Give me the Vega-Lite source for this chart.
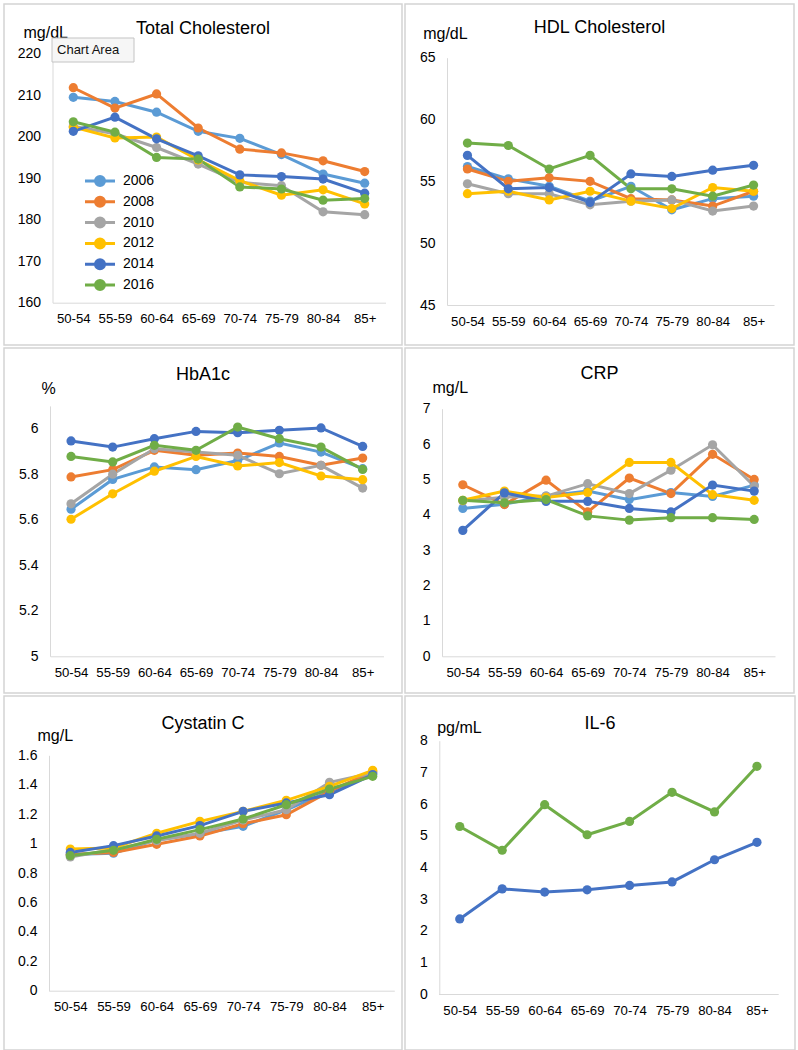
{
  "$schema": "https://vega.github.io/schema/vega-lite/v6.json",
  "padding": {"left": 3, "top": 3, "right": 0, "bottom": 0},
  "background": "white",
  "columns": 2,
  "spacing": 1,
  "resolve": {"legend": {"color": "independent"}},
  "config": {
    "view": {"stroke": "#d4d4d4", "strokeWidth": 1.5},
    "title": {"font": "Liberation Sans", "fontSize": 18, "fontWeight": "normal", "color": "#000000", "anchor": "middle", "offset": -30},
    "axis": {"domainColor": "#d9d9d9", "domainWidth": 1, "ticks": false, "tickSize": 0, "grid": false, "labelFont": "Liberation Sans", "labelFontSize": 14, "labelColor": "#000000", "labelPadding": 12, "titleFont": "Liberation Sans", "titleFontSize": 16, "titleFontWeight": "normal", "titleColor": "#000000"},
    "axisX": {"labelAngle": 0, "labelBaseline": "middle", "labelPadding": 16, "labelFontSize": 13.2, "title": null},
    "axisY": {"titleAngle": 0, "titleAlign": "left", "titleBaseline": "middle", "format": "~g"},
    "line": {"strokeWidth": 3},
    "point": {"filled": true, "size": 85, "opacity": 1}
  },
  "datasets": {
    "tc": [
      {"age": "50-54", "year": "2006", "value": 209.5}, {"age": "55-59", "year": "2006", "value": 208.5}, {"age": "60-64", "year": "2006", "value": 205.9}, {"age": "65-69", "year": "2006", "value": 201.3}, {"age": "70-74", "year": "2006", "value": 199.6}, {"age": "75-79", "year": "2006", "value": 195.7}, {"age": "80-84", "year": "2006", "value": 191.0}, {"age": "85+", "year": "2006", "value": 188.8},
      {"age": "50-54", "year": "2008", "value": 211.8}, {"age": "55-59", "year": "2008", "value": 206.9}, {"age": "60-64", "year": "2008", "value": 210.3}, {"age": "65-69", "year": "2008", "value": 202.1}, {"age": "70-74", "year": "2008", "value": 197.0}, {"age": "75-79", "year": "2008", "value": 196.1}, {"age": "80-84", "year": "2008", "value": 194.2}, {"age": "85+", "year": "2008", "value": 191.6},
      {"age": "50-54", "year": "2010", "value": 202.5}, {"age": "55-59", "year": "2010", "value": 200.7}, {"age": "60-64", "year": "2010", "value": 197.4}, {"age": "65-69", "year": "2010", "value": 193.4}, {"age": "70-74", "year": "2010", "value": 189.0}, {"age": "75-79", "year": "2010", "value": 188.2}, {"age": "80-84", "year": "2010", "value": 181.9}, {"age": "85+", "year": "2010", "value": 181.2},
      {"age": "50-54", "year": "2012", "value": 202.3}, {"age": "55-59", "year": "2012", "value": 199.7}, {"age": "60-64", "year": "2012", "value": 199.9}, {"age": "65-69", "year": "2012", "value": 194.4}, {"age": "70-74", "year": "2012", "value": 189.4}, {"age": "75-79", "year": "2012", "value": 185.9}, {"age": "80-84", "year": "2012", "value": 187.2}, {"age": "85+", "year": "2012", "value": 183.8},
      {"age": "50-54", "year": "2014", "value": 201.3}, {"age": "55-59", "year": "2014", "value": 204.7}, {"age": "60-64", "year": "2014", "value": 199.5}, {"age": "65-69", "year": "2014", "value": 195.4}, {"age": "70-74", "year": "2014", "value": 190.8}, {"age": "75-79", "year": "2014", "value": 190.4}, {"age": "80-84", "year": "2014", "value": 189.8}, {"age": "85+", "year": "2014", "value": 186.4},
      {"age": "50-54", "year": "2016", "value": 203.6}, {"age": "55-59", "year": "2016", "value": 201.1}, {"age": "60-64", "year": "2016", "value": 195.0}, {"age": "65-69", "year": "2016", "value": 194.6}, {"age": "70-74", "year": "2016", "value": 187.9}, {"age": "75-79", "year": "2016", "value": 187.4}, {"age": "80-84", "year": "2016", "value": 184.7}, {"age": "85+", "year": "2016", "value": 185.1}
    ],
    "hdl": [
      {"age": "50-54", "year": "2006", "value": 56.2}, {"age": "55-59", "year": "2006", "value": 55.2}, {"age": "60-64", "year": "2006", "value": 54.6}, {"age": "65-69", "year": "2006", "value": 53.4}, {"age": "70-74", "year": "2006", "value": 54.6}, {"age": "75-79", "year": "2006", "value": 52.7}, {"age": "80-84", "year": "2006", "value": 53.6}, {"age": "85+", "year": "2006", "value": 53.8},
      {"age": "50-54", "year": "2008", "value": 56.0}, {"age": "55-59", "year": "2008", "value": 55.0}, {"age": "60-64", "year": "2008", "value": 55.3}, {"age": "65-69", "year": "2008", "value": 55.0}, {"age": "70-74", "year": "2008", "value": 53.6}, {"age": "75-79", "year": "2008", "value": 53.5}, {"age": "80-84", "year": "2008", "value": 53.0}, {"age": "85+", "year": "2008", "value": 54.2},
      {"age": "50-54", "year": "2010", "value": 54.8}, {"age": "55-59", "year": "2010", "value": 54.0}, {"age": "60-64", "year": "2010", "value": 54.0}, {"age": "65-69", "year": "2010", "value": 53.1}, {"age": "70-74", "year": "2010", "value": 53.4}, {"age": "75-79", "year": "2010", "value": 53.5}, {"age": "80-84", "year": "2010", "value": 52.6}, {"age": "85+", "year": "2010", "value": 53.0},
      {"age": "50-54", "year": "2012", "value": 54.0}, {"age": "55-59", "year": "2012", "value": 54.2}, {"age": "60-64", "year": "2012", "value": 53.5}, {"age": "65-69", "year": "2012", "value": 54.2}, {"age": "70-74", "year": "2012", "value": 53.4}, {"age": "75-79", "year": "2012", "value": 52.8}, {"age": "80-84", "year": "2012", "value": 54.5}, {"age": "85+", "year": "2012", "value": 54.2},
      {"age": "50-54", "year": "2014", "value": 57.1}, {"age": "55-59", "year": "2014", "value": 54.4}, {"age": "60-64", "year": "2014", "value": 54.5}, {"age": "65-69", "year": "2014", "value": 53.3}, {"age": "70-74", "year": "2014", "value": 55.6}, {"age": "75-79", "year": "2014", "value": 55.4}, {"age": "80-84", "year": "2014", "value": 55.9}, {"age": "85+", "year": "2014", "value": 56.3},
      {"age": "50-54", "year": "2016", "value": 58.1}, {"age": "55-59", "year": "2016", "value": 57.9}, {"age": "60-64", "year": "2016", "value": 56.0}, {"age": "65-69", "year": "2016", "value": 57.1}, {"age": "70-74", "year": "2016", "value": 54.4}, {"age": "75-79", "year": "2016", "value": 54.4}, {"age": "80-84", "year": "2016", "value": 53.8}, {"age": "85+", "year": "2016", "value": 54.7}
    ],
    "hba1c": [
      {"age": "50-54", "year": "2006", "value": 5.646}, {"age": "55-59", "year": "2006", "value": 5.777}, {"age": "60-64", "year": "2006", "value": 5.832}, {"age": "65-69", "year": "2006", "value": 5.82}, {"age": "70-74", "year": "2006", "value": 5.86}, {"age": "75-79", "year": "2006", "value": 5.937}, {"age": "80-84", "year": "2006", "value": 5.897}, {"age": "85+", "year": "2006", "value": 5.824},
      {"age": "50-54", "year": "2008", "value": 5.788}, {"age": "55-59", "year": "2008", "value": 5.82}, {"age": "60-64", "year": "2008", "value": 5.905}, {"age": "65-69", "year": "2008", "value": 5.883}, {"age": "70-74", "year": "2008", "value": 5.893}, {"age": "75-79", "year": "2008", "value": 5.878}, {"age": "80-84", "year": "2008", "value": 5.839}, {"age": "85+", "year": "2008", "value": 5.871},
      {"age": "50-54", "year": "2010", "value": 5.67}, {"age": "55-59", "year": "2010", "value": 5.8}, {"age": "60-64", "year": "2010", "value": 5.912}, {"age": "65-69", "year": "2010", "value": 5.897}, {"age": "70-74", "year": "2010", "value": 5.883}, {"age": "75-79", "year": "2010", "value": 5.802}, {"age": "80-84", "year": "2010", "value": 5.839}, {"age": "85+", "year": "2010", "value": 5.739},
      {"age": "50-54", "year": "2012", "value": 5.602}, {"age": "55-59", "year": "2012", "value": 5.714}, {"age": "60-64", "year": "2012", "value": 5.813}, {"age": "65-69", "year": "2012", "value": 5.878}, {"age": "70-74", "year": "2012", "value": 5.836}, {"age": "75-79", "year": "2012", "value": 5.851}, {"age": "80-84", "year": "2012", "value": 5.792}, {"age": "85+", "year": "2012", "value": 5.776},
      {"age": "50-54", "year": "2014", "value": 5.946}, {"age": "55-59", "year": "2014", "value": 5.919}, {"age": "60-64", "year": "2014", "value": 5.956}, {"age": "65-69", "year": "2014", "value": 5.988}, {"age": "70-74", "year": "2014", "value": 5.982}, {"age": "75-79", "year": "2014", "value": 5.993}, {"age": "80-84", "year": "2014", "value": 6.003}, {"age": "85+", "year": "2014", "value": 5.922},
      {"age": "50-54", "year": "2016", "value": 5.878}, {"age": "55-59", "year": "2016", "value": 5.854}, {"age": "60-64", "year": "2016", "value": 5.927}, {"age": "65-69", "year": "2016", "value": 5.905}, {"age": "70-74", "year": "2016", "value": 6.007}, {"age": "75-79", "year": "2016", "value": 5.956}, {"age": "80-84", "year": "2016", "value": 5.919}, {"age": "85+", "year": "2016", "value": 5.821}
    ],
    "crp": [
      {"age": "50-54", "year": "2006", "value": 4.18}, {"age": "55-59", "year": "2006", "value": 4.3}, {"age": "60-64", "year": "2006", "value": 4.53}, {"age": "65-69", "year": "2006", "value": 4.67}, {"age": "70-74", "year": "2006", "value": 4.43}, {"age": "75-79", "year": "2006", "value": 4.63}, {"age": "80-84", "year": "2006", "value": 4.52}, {"age": "85+", "year": "2006", "value": 4.84},
      {"age": "50-54", "year": "2008", "value": 4.85}, {"age": "55-59", "year": "2008", "value": 4.29}, {"age": "60-64", "year": "2008", "value": 4.98}, {"age": "65-69", "year": "2008", "value": 4.08}, {"age": "70-74", "year": "2008", "value": 5.04}, {"age": "75-79", "year": "2008", "value": 4.6}, {"age": "80-84", "year": "2008", "value": 5.71}, {"age": "85+", "year": "2008", "value": 5.0},
      {"age": "50-54", "year": "2010", "value": 4.39}, {"age": "55-59", "year": "2010", "value": 4.5}, {"age": "60-64", "year": "2010", "value": 4.53}, {"age": "65-69", "year": "2010", "value": 4.88}, {"age": "70-74", "year": "2010", "value": 4.6}, {"age": "75-79", "year": "2010", "value": 5.26}, {"age": "80-84", "year": "2010", "value": 5.98}, {"age": "85+", "year": "2010", "value": 4.81},
      {"age": "50-54", "year": "2012", "value": 4.41}, {"age": "55-59", "year": "2012", "value": 4.67}, {"age": "60-64", "year": "2012", "value": 4.49}, {"age": "65-69", "year": "2012", "value": 4.63}, {"age": "70-74", "year": "2012", "value": 5.48}, {"age": "75-79", "year": "2012", "value": 5.48}, {"age": "80-84", "year": "2012", "value": 4.57}, {"age": "85+", "year": "2012", "value": 4.41},
      {"age": "50-54", "year": "2014", "value": 3.56}, {"age": "55-59", "year": "2014", "value": 4.62}, {"age": "60-64", "year": "2014", "value": 4.38}, {"age": "65-69", "year": "2014", "value": 4.38}, {"age": "70-74", "year": "2014", "value": 4.18}, {"age": "75-79", "year": "2014", "value": 4.08}, {"age": "80-84", "year": "2014", "value": 4.84}, {"age": "85+", "year": "2014", "value": 4.67},
      {"age": "50-54", "year": "2016", "value": 4.41}, {"age": "55-59", "year": "2016", "value": 4.34}, {"age": "60-64", "year": "2016", "value": 4.43}, {"age": "65-69", "year": "2016", "value": 3.97}, {"age": "70-74", "year": "2016", "value": 3.85}, {"age": "75-79", "year": "2016", "value": 3.92}, {"age": "80-84", "year": "2016", "value": 3.92}, {"age": "85+", "year": "2016", "value": 3.87}
    ],
    "cys": [
      {"age": "50-54", "year": "2006", "value": 0.925}, {"age": "55-59", "year": "2006", "value": 0.935}, {"age": "60-64", "year": "2006", "value": 1.025}, {"age": "65-69", "year": "2006", "value": 1.066}, {"age": "70-74", "year": "2006", "value": 1.117}, {"age": "75-79", "year": "2006", "value": 1.23}, {"age": "80-84", "year": "2006", "value": 1.355}, {"age": "85+", "year": "2006", "value": 1.48},
      {"age": "50-54", "year": "2008", "value": 0.925}, {"age": "55-59", "year": "2008", "value": 0.94}, {"age": "60-64", "year": "2008", "value": 0.995}, {"age": "65-69", "year": "2008", "value": 1.052}, {"age": "70-74", "year": "2008", "value": 1.135}, {"age": "75-79", "year": "2008", "value": 1.196}, {"age": "80-84", "year": "2008", "value": 1.355}, {"age": "85+", "year": "2008", "value": 1.49},
      {"age": "50-54", "year": "2010", "value": 0.909}, {"age": "55-59", "year": "2010", "value": 0.96}, {"age": "60-64", "year": "2010", "value": 1.02}, {"age": "65-69", "year": "2010", "value": 1.07}, {"age": "70-74", "year": "2010", "value": 1.16}, {"age": "75-79", "year": "2010", "value": 1.23}, {"age": "80-84", "year": "2010", "value": 1.416}, {"age": "85+", "year": "2010", "value": 1.48},
      {"age": "50-54", "year": "2012", "value": 0.963}, {"age": "55-59", "year": "2012", "value": 0.97}, {"age": "60-64", "year": "2012", "value": 1.07}, {"age": "65-69", "year": "2012", "value": 1.151}, {"age": "70-74", "year": "2012", "value": 1.219}, {"age": "75-79", "year": "2012", "value": 1.294}, {"age": "80-84", "year": "2012", "value": 1.389}, {"age": "85+", "year": "2012", "value": 1.498},
      {"age": "50-54", "year": "2014", "value": 0.94}, {"age": "55-59", "year": "2014", "value": 0.986}, {"age": "60-64", "year": "2014", "value": 1.052}, {"age": "65-69", "year": "2014", "value": 1.122}, {"age": "70-74", "year": "2014", "value": 1.219}, {"age": "75-79", "year": "2014", "value": 1.276}, {"age": "80-84", "year": "2014", "value": 1.332}, {"age": "85+", "year": "2014", "value": 1.469},
      {"age": "50-54", "year": "2016", "value": 0.918}, {"age": "55-59", "year": "2016", "value": 0.954}, {"age": "60-64", "year": "2016", "value": 1.029}, {"age": "65-69", "year": "2016", "value": 1.095}, {"age": "70-74", "year": "2016", "value": 1.167}, {"age": "75-79", "year": "2016", "value": 1.264}, {"age": "80-84", "year": "2016", "value": 1.371}, {"age": "85+", "year": "2016", "value": 1.457}
    ],
    "il6": [
      {"age": "50-54", "year": "2014", "value": 2.37}, {"age": "55-59", "year": "2014", "value": 3.32}, {"age": "60-64", "year": "2014", "value": 3.22}, {"age": "65-69", "year": "2014", "value": 3.29}, {"age": "70-74", "year": "2014", "value": 3.43}, {"age": "75-79", "year": "2014", "value": 3.54}, {"age": "80-84", "year": "2014", "value": 4.24}, {"age": "85+", "year": "2014", "value": 4.79},
      {"age": "50-54", "year": "2016", "value": 5.29}, {"age": "55-59", "year": "2016", "value": 4.54}, {"age": "60-64", "year": "2016", "value": 5.98}, {"age": "65-69", "year": "2016", "value": 5.03}, {"age": "70-74", "year": "2016", "value": 5.45}, {"age": "75-79", "year": "2016", "value": 6.37}, {"age": "80-84", "year": "2016", "value": 5.75}, {"age": "85+", "year": "2016", "value": 7.19}
    ],
    "tip": [{"label": "Chart Area"}]
  },
  "concat": [
    {
      "width": 398, "height": 341,
      "title": {"text": "Total Cholesterol", "offset": -33.7},
      "layer": [
        {
          "data": {"name": "tc"},
          "encoding": {
            "x": {"field": "age", "type": "ordinal", "sort": ["50-54","55-59","60-64","65-69","70-74","75-79","80-84","85+"], "scale": {"type": "point", "range": [48.5, 381.5], "padding": 0.5}, "axis": {"offset": -42.3}},
            "y": {"field": "value", "type": "quantitative", "scale": {"domain": [160, 220], "range": [298.7, 49.7], "nice": false, "zero": false}, "axis": {"values": [160,170,180,190,200,210,220], "offset": -48.5, "title": "mg/dL", "titleX": -29.5, "titleY": 28}},
            "color": {"field": "year", "type": "nominal", "scale": {"domain": ["2006","2008","2010","2012","2014","2016"], "range": ["#5B9BD5","#ED7D31","#A5A5A5","#FFC000","#4472C4","#70AD47"]},
              "legend": {"orient": "none", "legendX": 89, "legendY": 170, "title": null, "padding": 0, "symbolType": "M-3,0H3M-0.9,0A0.9,0.9,0,1,0,0.9,0A0.9,0.9,0,1,0,-0.9,0Z", "symbolSize": 100, "symbolStrokeWidth": 3, "symbolOpacity": 1, "labelFont": "Liberation Sans", "labelFontSize": 14, "labelColor": "#000000", "labelOffset": 16, "rowPadding": -1.2,
                "encode": {"symbols": {"update": {"fill": {"scale": "color", "field": "value"}, "stroke": {"scale": "color", "field": "value"}}}}}}
          },
          "layer": [{"mark": {"type": "line"}}, {"mark": {"type": "point"}}]
        },
        {
          "data": {"name": "tip"},
          "mark": {"type": "point", "shape": "M-1,-0.2927H1V0.2927H-1Z", "size": 6724, "filled": true, "fill": "#f6f6f6", "stroke": "#c4c4c4", "strokeWidth": 1, "xOffset": 19.7, "yOffset": -3.7},
          "encoding": {"x": {"datum": "50-54"}, "y": {"datum": 220}}
        },
        {
          "data": {"name": "tip"},
          "mark": {"type": "text", "font": "Liberation Sans", "fontSize": 13, "color": "#111111", "align": "left", "baseline": "middle", "dx": -16.3, "dy": -3.7},
          "encoding": {"x": {"datum": "50-54"}, "y": {"datum": 220}, "text": {"field": "label"}}
        }
      ]
    },
    {
      "width": 389, "height": 341,
      "title": {"text": "HDL Cholesterol", "offset": -33},
      "data": {"name": "hdl"},
      "encoding": {
        "x": {"field": "age", "type": "ordinal", "sort": ["50-54","55-59","60-64","65-69","70-74","75-79","80-84","85+"], "scale": {"type": "point", "range": [42, 369], "padding": 0.5}, "axis": {"offset": -40}},
        "y": {"field": "value", "type": "quantitative", "scale": {"domain": [45, 65], "range": [301, 53.7], "nice": false, "zero": false}, "axis": {"values": [45,50,55,60,65], "offset": -42, "title": "mg/dL", "titleX": -24.3, "titleY": 29.3}},
        "color": {"field": "year", "type": "nominal", "scale": {"domain": ["2006","2008","2010","2012","2014","2016"], "range": ["#5B9BD5","#ED7D31","#A5A5A5","#FFC000","#4472C4","#70AD47"]}, "legend": null}
      },
      "layer": [{"mark": {"type": "line"}}, {"mark": {"type": "point"}}]
    },
    {
      "width": 398, "height": 345,
      "title": {"text": "HbA1c", "offset": -35.7},
      "data": {"name": "hba1c"},
      "encoding": {
        "x": {"field": "age", "type": "ordinal", "sort": ["50-54","55-59","60-64","65-69","70-74","75-79","80-84","85+"], "scale": {"type": "point", "range": [46.2, 379.5], "padding": 0.5}, "axis": {"offset": -36.7}},
        "y": {"field": "value", "type": "quantitative", "scale": {"domain": [5, 6.1], "range": [308.3, 57.9], "nice": false, "zero": false}, "axis": {"values": [5,5.2,5.4,5.6,5.8,6], "offset": -46, "title": "%", "titleX": -9, "titleY": 40.7}},
        "color": {"field": "year", "type": "nominal", "scale": {"domain": ["2006","2008","2010","2012","2014","2016"], "range": ["#5B9BD5","#ED7D31","#A5A5A5","#FFC000","#4472C4","#70AD47"]}, "legend": null}
      },
      "layer": [{"mark": {"type": "line"}}, {"mark": {"type": "point"}}]
    },
    {
      "width": 389, "height": 345,
      "title": {"text": "CRP", "offset": -35},
      "data": {"name": "crp"},
      "encoding": {
        "x": {"field": "age", "type": "ordinal", "sort": ["50-54","55-59","60-64","65-69","70-74","75-79","80-84","85+"], "scale": {"type": "point", "range": [37, 370], "padding": 0.5}, "axis": {"offset": -36.7}},
        "y": {"field": "value", "type": "quantitative", "scale": {"domain": [0, 7], "range": [308.3, 60.7], "nice": false, "zero": false}, "axis": {"values": [0,1,2,3,4,5,6,7], "offset": -37, "title": "mg/L", "titleX": -10, "titleY": 39.7}},
        "color": {"field": "year", "type": "nominal", "scale": {"domain": ["2006","2008","2010","2012","2014","2016"], "range": ["#5B9BD5","#ED7D31","#A5A5A5","#FFC000","#4472C4","#70AD47"]}, "legend": null}
      },
      "layer": [{"mark": {"type": "line"}}, {"mark": {"type": "point"}}]
    },
    {
      "width": 398, "height": 354,
      "title": {"text": "Cystatin C", "offset": -37},
      "data": {"name": "cys"},
      "encoding": {
        "x": {"field": "age", "type": "ordinal", "sort": ["50-54","55-59","60-64","65-69","70-74","75-79","80-84","85+"], "scale": {"type": "point", "range": [44.7, 390.3], "padding": 0.5}, "axis": {"offset": -59.3}},
        "y": {"field": "value", "type": "quantitative", "scale": {"domain": [0, 1.6], "range": [294.7, 59.3], "nice": false, "zero": false}, "axis": {"values": [0,0.2,0.4,0.6,0.8,1,1.2,1.4,1.6], "offset": -45, "title": "mg/L", "titleX": -12, "titleY": 39.3}},
        "color": {"field": "year", "type": "nominal", "scale": {"domain": ["2006","2008","2010","2012","2014","2016"], "range": ["#5B9BD5","#ED7D31","#A5A5A5","#FFC000","#4472C4","#70AD47"]}, "legend": null}
      },
      "layer": [{"mark": {"type": "line"}}, {"mark": {"type": "point"}}]
    },
    {
      "width": 390, "height": 354,
      "title": {"text": "IL-6", "offset": -37},
      "data": {"name": "il6"},
      "encoding": {
        "x": {"field": "age", "type": "ordinal", "sort": ["50-54","55-59","60-64","65-69","70-74","75-79","80-84","85+"], "scale": {"type": "point", "range": [33.5, 373.2], "padding": 0.5}, "axis": {"offset": -56}},
        "y": {"field": "value", "type": "quantitative", "scale": {"domain": [0, 8], "range": [298, 44.7], "nice": false, "zero": false}, "axis": {"values": [0,1,2,3,4,5,6,7,8], "offset": -34.3, "title": "pg/mL", "titleX": -2.6, "titleY": 31.3}},
        "color": {"field": "year", "type": "nominal", "scale": {"domain": ["2006","2008","2010","2012","2014","2016"], "range": ["#5B9BD5","#ED7D31","#A5A5A5","#FFC000","#4472C4","#70AD47"]}, "legend": null}
      },
      "layer": [{"mark": {"type": "line"}}, {"mark": {"type": "point"}}]
    }
  ]
}
